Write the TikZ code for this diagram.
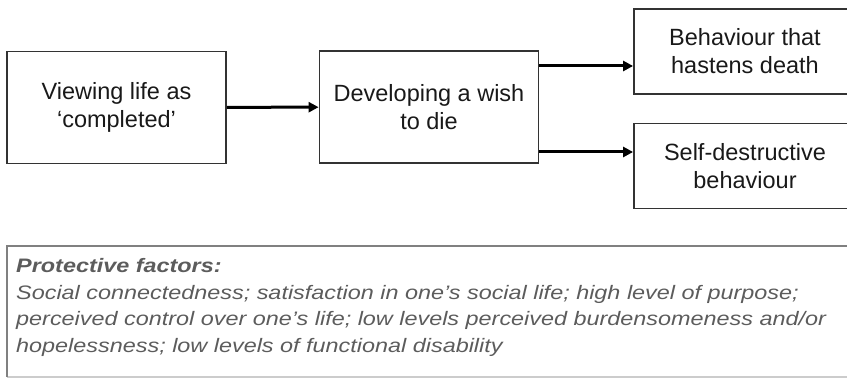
\documentclass[tikz,border=0pt]{standalone}
\usepackage{fontspec}
\setmainfont{Liberation Sans}
\newfontfamily\notefont{Liberation Sans}[FakeStretch=1.2]
\usetikzlibrary{arrows.meta}

\definecolor{boxline}{rgb}{0.2,0.2,0.2}
\definecolor{notegray}{rgb}{0.36,0.36,0.36}
\definecolor{noteline}{rgb}{0.5,0.5,0.5}
\definecolor{notebottom}{rgb}{0.8,0.8,0.8}

\begin{document}
\begin{tikzpicture}[x=1pt,y=1pt,
        stage/.style={draw=boxline, line width=1.8pt, minimum width=219pt, minimum height=112pt,
            align=center, inner sep=0pt, text=black!90, font=\fontsize{23.5}{28}\selectfont},
        result/.style={stage, minimum width=222pt, minimum height=85pt},
        flow/.style={line width=3pt, -{Triangle[length=10pt,width=10pt]}}]
        \useasboundingbox (0,0) rectangle (847,378);
        \clip (0,0) rectangle (847,378);

        \node[stage] (view) at (116.5,270.5) {Viewing life as\\‘completed’};
        \node[stage] (wish) at (429,271) {Developing a wish\\to die};
        \node[result] (hasten) at (745,326.5) {Behaviour that\\hastens death};
        \node[result] (selfd) at (745,212) {Self-destructive\\behaviour};

        \coordinate (up) at ([yshift=41pt]wish.east);
        \coordinate (down) at ([yshift=-45pt]wish.east);
        \draw[flow] (view) -- (wish);
        \draw[flow] (up) -- (up -| hasten.west);
        \draw[flow] (down) -- (down -| selfd.west);

        % protective factors
        \draw[notebottom, line width=1.4pt] (7,1) -- (860,1);
        \draw[noteline, line width=1.8pt] (860,132) -- (7,132) -- (7,1);
        \node[anchor=north west, inner sep=0pt, align=left, text=notegray,
            font=\notefont\itshape\fontsize{19.5}{26.7}\selectfont] (prot) at (16,120)
            {\textbf{Protective factors:}\\
            Social connectedness; satisfaction in one’s social life; high level of purpose;\\
            perceived control over one’s life; low levels perceived burdensomeness and/or\\
            hopelessness; low levels of functional disability};
    \end{tikzpicture}
\end{document}
